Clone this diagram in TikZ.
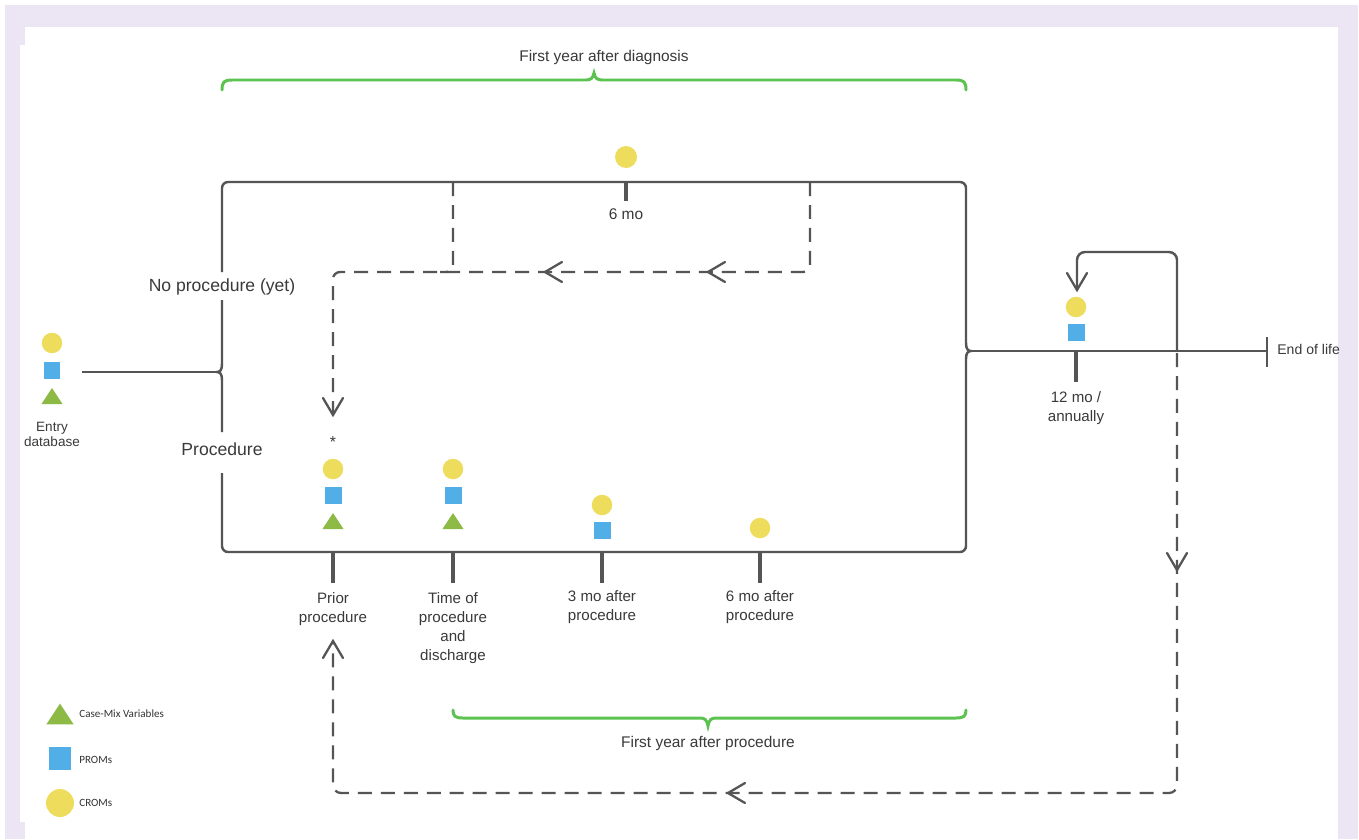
\documentclass[tikz,border=0pt]{standalone}
\usepackage{fontspec}
\setmainfont{Liberation Sans}
\newfontfamily\legfont{Carlito}
\definecolor{lav}{HTML}{ECE6F4}
\definecolor{yel}{HTML}{EEDD5C}
\definecolor{blu}{HTML}{52AEE6}
\definecolor{grn}{HTML}{8DBA45}
\definecolor{brc}{HTML}{5CC350}
\definecolor{ln}{HTML}{555555}
\definecolor{txt}{HTML}{3A3A3A}
\begin{document}
\begin{tikzpicture}[x=0.02cm,y=-0.02cm,
 line/.style={draw=ln, line width=1.4pt},
 tickln/.style={draw=ln, line width=2pt},
 dsh/.style={draw=ln, line width=1.3pt, dash pattern=on 0.28cm off 0.18cm},
 bracel/.style={draw=brc, line width=1.7pt, line cap=round},
 crom/.style={circle, fill=yel, minimum size=0.41cm, inner sep=0pt},
 prom/.style={rectangle, fill=blu, minimum size=0.34cm, inner sep=0pt},
 lbl/.style={text=txt, font=\fontsize{8.6pt}{10.8pt}\selectfont, align=center, inner sep=0pt, anchor=north},
 big/.style={text=txt, font=\fontsize{10pt}{12pt}\selectfont, inner sep=0pt},
 mid/.style={text=txt, font=\fontsize{8.8pt}{10.5pt}\selectfont, inner sep=0pt},
 leg/.style={text=black!80, font=\legfont\fontsize{6.3pt}{7pt}\selectfont, anchor=west, inner sep=0pt},
 cmv/.pic={\fill[grn] (-10.5,8) -- (10.5,8) -- (0,-8) -- cycle;},
 vtip/.pic={\draw[ln, line width=1.3pt, line cap=round, line join=miter] (-17,-10) -- (0,0) -- (-17,10);}
]
\useasboundingbox (0,0) rectangle (1359,839);
% background frame
\fill[white] (0,0) rectangle (1359,839);
\fill[lav] (5,5) rectangle (1358,839);
\fill[white] (25,27) rectangle (1338,839);
\fill[white] (20,45) rectangle (25,822);

% green braces
\draw[bracel] (222,90) .. controls (222,82) and (224,80) .. (232,80) -- (586,80)
  .. controls (591,80) and (593,78) .. (594,73) .. controls (595,78) and (597,80) .. (602,80)
  -- (956,80) .. controls (964,80) and (966,82) .. (966,90);
\node[mid] (fyd) at (604,57) {First year after diagnosis};
\draw[bracel] (453,710) .. controls (453,716) and (455,718) .. (463,718) -- (700,718)
  .. controls (705,718) and (707,720) .. (708,726) .. controls (709,720) and (711,718) .. (716,718)
  -- (956,718) .. controls (964,718) and (966,716) .. (966,710);
\node[mid] (fyp) at (708,743) {First year after procedure};

% main frame
\draw[line, rounded corners=0.12cm] (222,272) |- (966,182) -- (966,343);
\draw[line] (966,343) .. controls (966,349) and (968,351) .. (971,351)
  .. controls (968,351) and (966,353) .. (966,359);
\draw[line, rounded corners=0.12cm] (966,359) |- (222,552) -- (222,473);
\draw[line] (222,300) -- (222,364) .. controls (222,370) and (220,372) .. (217,372)
  .. controls (220,372) and (222,374) .. (222,380) -- (222,432);
\node[big] (np) at (222,287) {No procedure (yet)};
\node[big] (pr) at (222,449) {Procedure};

% entry
\node[crom] (e1) at (52,343) {};
\node[prom] (e2) at (52,370) {};
\pic (e3) at (52,396) {cmv};
\node[lbl, font=\fontsize{7.7pt}{8.8pt}\selectfont] (entry) at (52,421.5) {Entry\\database};
\coordinate (es) at (82,372);
\coordinate (ej) at (217,372);
\draw[line] (es) -- (ej);

% 6 mo (no procedure)
\node[crom, minimum size=0.44cm] (c6) at (626,157) {};
\draw[tickln] (626,182) -- (626,201);
\node[mid] (l6) at (626,214) {6 mo};

% top dashed loop
\draw[dsh, rounded corners=0.14cm] (810,182) |- (333,272) -- (333,413);
\draw[dsh, rounded corners=0.14cm] (453,182) |- (440,272);
\pic[rotate=-90] at (333,415) {vtip};
\pic[rotate=180] at (545,272) {vtip};
\pic[rotate=180] at (708,272) {vtip};

% procedure branch items
\node[anchor=base, text=txt, font=\fontsize{9pt}{10pt}\selectfont, inner sep=0pt] (star) at (333,447.5) {*};
\node[crom] (p1c) at (333,469) {};
\node[prom] (p1p) at (333,495) {};
\pic (p1t) at (333,521) {cmv};
\node[crom] (p2c) at (453,469) {};
\node[prom] (p2p) at (453,495) {};
\pic (p2t) at (453,521) {cmv};
\node[crom] (p3c) at (602,505) {};
\node[prom] (p3p) at (602,530) {};
\node[crom] (p4c) at (760,528) {};
\foreach \xx in {333,453,602,760} {\draw[tickln] (\xx,552) -- (\xx,583);}
\node[lbl] (l1) at (333,592.5) {Prior\\procedure};
\node[lbl] (l2) at (453,592.5) {Time of\\procedure\\and\\discharge};
\node[lbl] (l3) at (602,590.5) {3 mo after\\procedure};
\node[lbl] (l4) at (760,590.5) {6 mo after\\procedure};

% after first year
\coordinate (rj) at (971,351);
\coordinate (eol) at (1267,351);
\draw[line] (rj) -- (eol);
\draw[line] (1267,337) -- (1267,367);
\node[text=txt, font=\fontsize{8pt}{9pt}\selectfont, anchor=west, inner sep=0pt] (end) at (1277,349) {End of life};
\node[crom] (a1) at (1076,307) {};
\node[prom] (a2) at (1076,332) {};
\draw[tickln] (1076,351) -- (1076,382);
\node[lbl] (l12) at (1076,391.5) {12 mo /\\annually};
\draw[line, rounded corners=0.16cm] (1177,351) |- (1077,252) -- (1077,289);
\pic[rotate=-90] at (1077,290) {vtip};

% long dashed return loop
\draw[dsh, rounded corners=0.16cm] (1177,353) |- (333,793) -- (333,643);
\pic[rotate=-90] at (1177,570) {vtip};
\pic[rotate=180] at (728,793) {vtip};
\pic[rotate=90] at (333,641) {vtip};

% legend
\pic[scale=1.3] (lt) at (60,714) {cmv};
\node[prom, minimum size=0.46cm] (lp) at (60,758) {};
\node[crom, minimum size=0.56cm] (lc) at (60,803) {};
\node[leg] (lt1) at (79,714) {Case-Mix Variables};
\node[leg] (lp1) at (79,760) {PROMs};
\node[leg] (lc1) at (79,803) {CROMs};
\end{tikzpicture}
\end{document}
